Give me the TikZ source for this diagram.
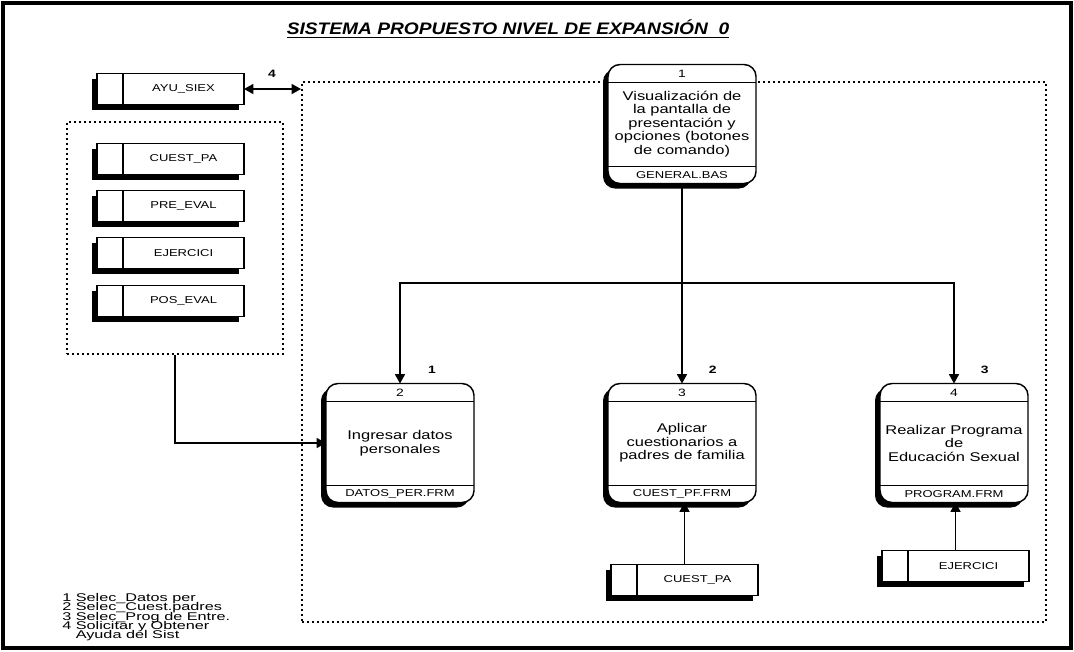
\documentclass[tikz,border=0pt]{standalone}
\usepackage{fontspec}
\setmainfont{Liberation Sans}[FakeStretch=1.3]
\newfontfamily\titlefont{Liberation Sans}[FakeStretch=1.15]
\newfontfamily\legendfont{Liberation Sans}[FakeStretch=1.45]
\usetikzlibrary{arrows.meta,shadows}

\begin{document}
\begin{tikzpicture}[x=0.75pt,y=-0.75pt,
  heavyshadow/.style={drop shadow={shadow xshift=-3.75pt, shadow yshift=-3.75pt, opacity=1, fill=black}},
  store/.style={draw, line width=1.1pt, fill=white, rectangle, outer sep=0pt,
    minimum width=110.25pt, minimum height=23.25pt, inner sep=0pt,
    font=\fontsize{7.5}{9}\selectfont, heavyshadow,
    execute at begin node={\hspace*{19.5pt}},
    path picture={\draw[line width=1.1pt]
      ([xshift=19.5pt]path picture bounding box.north west) -- ([xshift=19.5pt]path picture bounding box.south west);}},
  proc/.style={draw, line width=1.1pt, fill=white, rectangle, rounded corners=9pt, outer sep=0pt,
    minimum width=111pt, minimum height=89.25pt, inner sep=0pt, align=center,
    font=\fontsize{9.5}{10.1}\selectfont, heavyshadow,
    path picture={\draw[line width=1.1pt, sharp corners]
      ([yshift=-13.5pt]path picture bounding box.north west) -- ([yshift=-13.5pt]path picture bounding box.north east)
      ([yshift=12.75pt]path picture bounding box.south west) -- ([yshift=12.75pt]path picture bounding box.south east);}},
  pnum/.style={inner sep=0pt, font=\fontsize{8}{9}\selectfont},
  pfoot/.style={inner sep=0pt, font=\fontsize{7.5}{9}\selectfont},
  flowlabel/.style={inner sep=0pt, font=\bfseries\fontsize{8}{9}\selectfont},
  keytext/.style={inner sep=0pt, align=left, font=\legendfont\fontsize{8.4}{7}\selectfont,
    execute at begin node={\lineskiplimit=-10pt\relax}},
  dotbox/.style={draw, line width=1.5pt, dash pattern=on 1.5pt off 2.25pt, rectangle, inner sep=0pt},
  flow/.style={draw, line width=1.1pt, -{Triangle[length=7pt,width=7.5pt]}},
  flowboth/.style={draw, line width=1.1pt, {Triangle[length=7pt,width=7.5pt]}-{Triangle[length=7pt,width=7.5pt]}}
]
\useasboundingbox (0,0) rectangle (1074,651);

% page frame
\draw[line width=3pt] (3,3) rectangle (1071,648);

% heading
\node[font=\titlefont\bfseries\itshape\fontsize{12.5}{14}\selectfont, inner sep=0pt] (title) at (508,29)
  {\underline{SISTEMA PROPUESTO NIVEL DE EXPANSIÓN\ \ 0}};

% system boundary and the group of stores on the left
\node[dotbox, minimum width=558pt, minimum height=405pt] (sysbox) at (674,352) {};
\node[dotbox, minimum width=162pt, minimum height=174pt] (grp) at (175,238) {};

% data stores
\node[store] (ayu) at (170.5,89) {AYU\_SIEX};
\node[store] (cue) at (170.5,159) {CUEST\_PA};
\node[store] (pre) at (170.5,206) {PRE\_EVAL};
\node[store] (eje) at (170.5,253) {EJERCICI};
\node[store] (pos) at (170.5,301) {POS\_EVAL};
\node[store] (cuestpa) at (684.5,580) {CUEST\_PA};
\node[store] (ejer) at (955.5,566) {EJERCICI};

% processes
\node[proc] (p1) at (682,124) {Visualización de\\la pantalla de\\presentación y\\opciones (botones\\de comando)};
\node[pnum] (p1n) at ([yshift=-6.75pt]p1.north) {1};
\node[pfoot] (p1f) at ([yshift=6.4pt]p1.south) {GENERAL.BAS};

\node[proc] (p2) at (400,443) {Ingresar datos\\personales};
\node[pnum] (p2n) at ([yshift=-6.75pt]p2.north) {2};
\node[pfoot] (p2f) at ([yshift=6.4pt]p2.south) {DATOS\_PER.FRM};

\node[proc] (p3) at (682,443) {Aplicar\\cuestionarios a\\padres de familia};
\node[pnum] (p3n) at ([yshift=-6.75pt]p3.north) {3};
\node[pfoot] (p3f) at ([yshift=6.4pt]p3.south) {CUEST\_PF.FRM};

\node[proc] (p4) at (954,443) {Realizar Programa\\de\\Educación Sexual};
\node[pnum] (p4n) at ([yshift=-6.75pt]p4.north) {4};
\node[pfoot] (p4f) at ([yshift=6.4pt]p4.south) {PROGRAM.FRM};

% flows
\coordinate (split) at (682,283);
\draw[flow] (p1.south) -- (p3.north);
\draw[flow] (split) -| (p2.north);
\draw[flow] (split) -| (p4.north);
\draw[flow] (grp.south) |- (p2.west);
\draw[flow] (cuestpa.north) -- (cuestpa.north |- p3.south);
\draw[flow] (ejer.north) -- (ejer.north |- p4.south);
\draw[flowboth] (ayu.east) -- (ayu.east -| sysbox.west);

% flow numbers
\node[flowlabel] (l1) at ([xshift=24pt,yshift=10pt]p2.north) {1};
\node[flowlabel] (l2) at ([xshift=23pt,yshift=10pt]p3.north) {2};
\node[flowlabel] (l3) at ([xshift=23pt,yshift=10pt]p4.north) {3};
\node[flowlabel] (l4) at (272,74) {4};

% key to the flow numbers
\node[keytext, anchor=north west] (legend) at (62,593)
  {1 Selec\_Datos per\\2 Selec\_Cuest.padres\\3 Selec\_Prog de Entre.\\4 Solicitar y Obtener\\\phantom{4 }Ayuda del Sist};
\end{tikzpicture}
\end{document}
